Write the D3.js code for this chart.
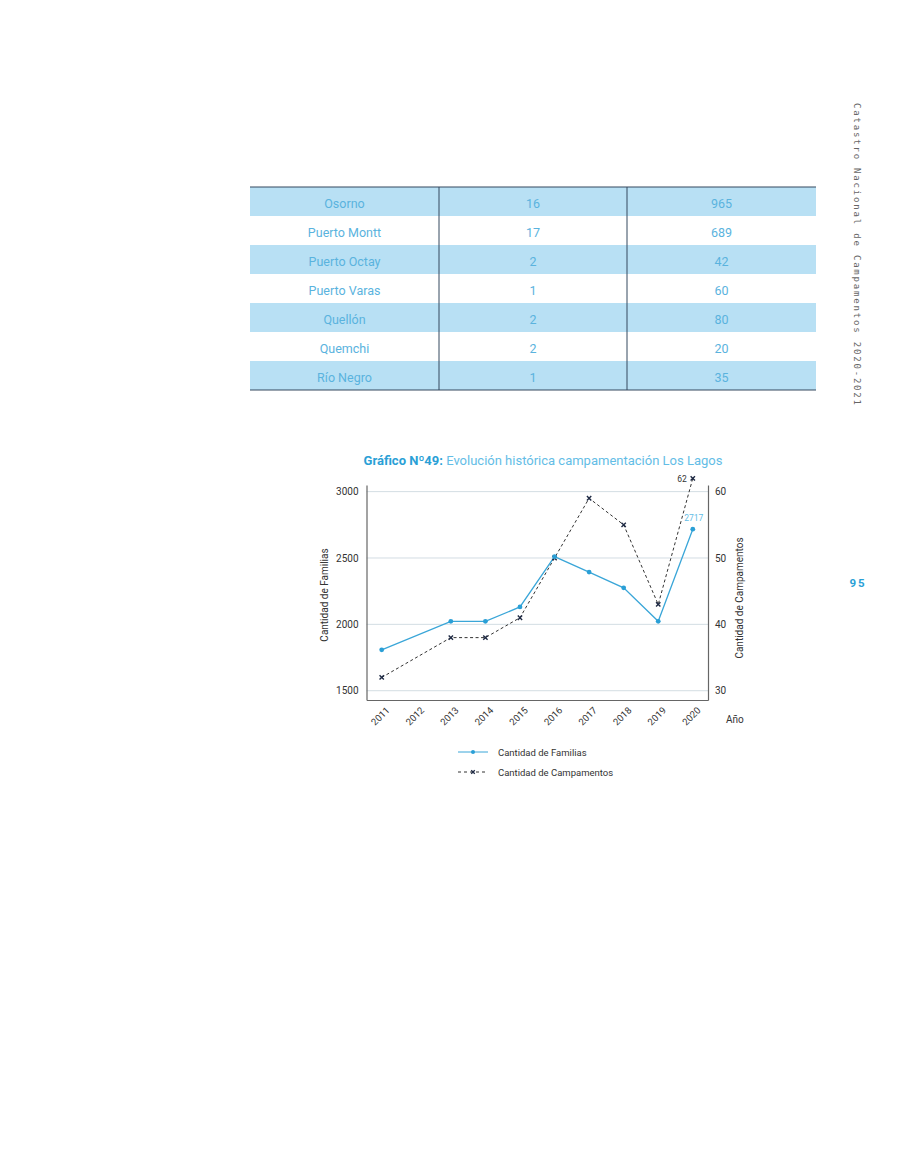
<!DOCTYPE html>
<html>
<head>
<meta charset="utf-8">
<script src="https://cdn.jsdelivr.net/npm/d3@7"></script>
<style>
  body { margin: 0; background: #fff; }
  svg { display: block; font-family: Roboto, "Noto Sans", sans-serif; }
</style>
</head>
<body>
<div id="page"></div>
<script>
// table rows: comuna, campamentos, familias
var comunas = ['Osorno', 'Puerto Montt', 'Puerto Octay', 'Puerto Varas', 'Quellón', 'Quemchi', 'Río Negro'];
var campComuna = [16, 17, 2, 1, 2, 2, 1];
var famComuna = [965, 689, 42, 60, 80, 20, 35];

// chart data (2012 has no observation)
var years = ['2011', '2012', '2013', '2014', '2015', '2016', '2017', '2018', '2019', '2020'];
var familias = [1808, null, 2023, 2023, 2131, 2510, 2394, 2275, 2023, 2717];
var campamentos = [32, null, 38, 38, 41, 50, 59, 55, 43, 62];
var leftTicks = [1500, 2000, 2500, 3000];
var rightTicks = [30, 40, 50, 60];

var width = 900, height = 1165;
var blue = '#3aa6d8', lightBlue = '#63bde6', dark = '#333';

var svg = d3.select('#page').append('svg')
  .attr('width', width)
  .attr('height', height);

// ---- table ----
var tableX = 250, tableY = 187, rowH = 29;
var colX = [250, 439, 627, 816];

var rows = svg.append('g').selectAll('g').data(comunas)
  .enter().append('g')
  .attr('transform', function (d, i) { return 'translate(0,' + (tableY + i * rowH) + ')'; });

rows.append('rect')
  .attr('x', tableX)
  .attr('width', colX[3] - tableX)
  .attr('height', rowH)
  .attr('fill', function (d, i) { return i % 2 === 0 ? '#b8e0f4' : '#fff'; });

rows.each(function (d, i) {
  var cells = [d, campComuna[i], famComuna[i]];
  d3.select(this).selectAll('text').data(cells)
    .enter().append('text')
    .attr('x', function (c, j) { return (colX[j] + colX[j + 1]) / 2; })
    .attr('y', rowH / 2 + 6.5)
    .attr('text-anchor', 'middle')
    .attr('font-size', 12.5)
    .attr('fill', '#5ab3de')
    .text(function (c) { return c; });
});

var tableBottom = tableY + comunas.length * rowH;
svg.append('line').attr('x1', tableX).attr('x2', colX[3]).attr('y1', tableY).attr('y2', tableY)
  .attr('stroke', '#34495e').attr('stroke-width', 1.2);
svg.append('line').attr('x1', tableX).attr('x2', colX[3]).attr('y1', tableBottom).attr('y2', tableBottom)
  .attr('stroke', '#34495e').attr('stroke-width', 1.2);
[colX[1], colX[2]].forEach(function (x) {
  svg.append('line').attr('x1', x).attr('x2', x).attr('y1', tableY).attr('y2', tableBottom)
    .attr('stroke', '#34495e').attr('stroke-width', 1);
});

// ---- side text ----
svg.append('text')
  .attr('transform', 'translate(854,103) rotate(90)')
  .attr('font-family', '"DejaVu Sans Mono", monospace')
  .attr('font-size', 9)
  .attr('fill', '#666')
  .attr('textLength', 302)
  .attr('lengthAdjust', 'spacing')
  .text('Catastro Nacional de Campamentos 2020-2021');

svg.append('text')
  .attr('x', 858).attr('y', 587)
  .attr('text-anchor', 'middle')
  .attr('font-size', 11.5)
  .attr('font-weight', 'bold')
  .attr('letter-spacing', 2)
  .attr('fill', '#2a9fd6')
  .text('95');

// ---- chart ----
var plot = { left: 366.5, right: 708, top: 485, bottom: 700 };

var x = d3.scalePoint().domain(years)
  .range([plot.left, plot.right]).padding(0.44);
var yL = d3.scaleLinear().domain([1430, 3050]).range([plot.bottom, plot.top]);
var yR = d3.scaleLinear().domain([28.6, 61]).range([plot.bottom, plot.top]);

var title = svg.append('text')
  .attr('x', 543).attr('y', 465)
  .attr('text-anchor', 'middle')
  .attr('font-size', 13);
title.append('tspan').attr('font-weight', 'bold').attr('fill', '#2a9fd6').text('Gráfico Nº49: ');
title.append('tspan').attr('fill', lightBlue).text('Evolución histórica campamentación Los Lagos');

// grid
svg.append('g').selectAll('line').data(leftTicks)
  .enter().append('line')
  .attr('x1', plot.left).attr('x2', plot.right)
  .attr('y1', function (d) { return yL(d); })
  .attr('y2', function (d) { return yL(d); })
  .attr('stroke', '#d3dde3').attr('stroke-width', 1);

// axes
var gL = svg.append('g').attr('transform', 'translate(' + plot.left + ',0)')
  .call(d3.axisLeft(yL).tickValues(leftTicks).tickFormat(d3.format('d')).tickSize(0).tickPadding(8));
var gR = svg.append('g').attr('transform', 'translate(' + plot.right + ',0)')
  .call(d3.axisRight(yR).tickValues(rightTicks).tickFormat(d3.format('d')).tickSize(0).tickPadding(7));
var gX = svg.append('g').attr('transform', 'translate(0,' + plot.bottom + ')')
  .call(d3.axisBottom(x).tickSize(0).tickPadding(0));

[gL, gR, gX].forEach(function (g) {
  g.select('.domain').attr('stroke', '#666').attr('stroke-width', 1.2);
  g.selectAll('text').attr('font-family', 'Roboto, sans-serif').attr('font-size', 10).attr('fill', dark);
});
gX.selectAll('text')
  .attr('text-anchor', 'end')
  .attr('dy', 0)
  .attr('y', 0)
  .attr('font-size', 9.5)
  .attr('transform', 'translate(8,11) rotate(-45)');

svg.append('text')
  .attr('x', 726).attr('y', 723)
  .attr('font-size', 10).attr('fill', dark)
  .text('Año');

svg.append('text')
  .attr('transform', 'translate(328,595) rotate(-90)')
  .attr('text-anchor', 'middle')
  .attr('font-size', 10).attr('fill', dark)
  .text('Cantidad de Familias');
svg.append('text')
  .attr('transform', 'translate(743,598) rotate(-90)')
  .attr('text-anchor', 'middle')
  .attr('font-size', 10).attr('fill', dark)
  .text('Cantidad de Campamentos');

// series
var famPts = years.map(function (y, i) { return { year: y, v: familias[i] }; })
  .filter(function (d) { return d.v !== null; });
var campPts = years.map(function (y, i) { return { year: y, v: campamentos[i] }; })
  .filter(function (d) { return d.v !== null; });

var lineFam = d3.line().x(function (d) { return x(d.year); }).y(function (d) { return yL(d.v); });
var lineCamp = d3.line().x(function (d) { return x(d.year); }).y(function (d) { return yR(d.v); });

svg.append('path').datum(campPts)
  .attr('d', lineCamp)
  .attr('fill', 'none')
  .attr('stroke', '#333')
  .attr('stroke-width', 1)
  .attr('stroke-dasharray', '3,2.5');

svg.append('path').datum(famPts)
  .attr('d', lineFam)
  .attr('fill', 'none')
  .attr('stroke', blue)
  .attr('stroke-width', 1.3);

var cross = d3.symbol().type(d3.symbolX).size(14);
svg.append('g').selectAll('path').data(campPts)
  .enter().append('path')
  .attr('d', cross)
  .attr('transform', function (d) { return 'translate(' + x(d.year) + ',' + yR(d.v) + ')'; })
  .attr('stroke', '#1f2a44').attr('stroke-width', 1.4);

svg.append('g').selectAll('circle').data(famPts)
  .enter().append('circle')
  .attr('cx', function (d) { return x(d.year); })
  .attr('cy', function (d) { return yL(d.v); })
  .attr('r', 2.4)
  .attr('fill', '#2a9fd6');

// value labels for last year
var last = years.length - 1;
svg.append('text')
  .attr('x', x(years[last]) - 6).attr('y', yR(campamentos[last]) + 4)
  .attr('text-anchor', 'end')
  .attr('font-size', 8.5).attr('fill', dark)
  .text(campamentos[last]);
svg.append('text')
  .attr('x', x(years[last]) + 1).attr('y', yL(familias[last]) - 8)
  .attr('text-anchor', 'middle')
  .attr('font-size', 8.5).attr('fill', lightBlue)
  .text(familias[last]);

// legend
var legend = svg.append('g').attr('transform', 'translate(458,752)');
legend.append('line').attr('x1', 0).attr('x2', 30).attr('stroke', blue).attr('stroke-width', 1);
legend.append('circle').attr('cx', 15).attr('r', 2).attr('fill', '#2a9fd6');
legend.append('text').attr('x', 40).attr('y', 3.5).attr('font-size', 9.5).attr('fill', dark)
  .text('Cantidad de Familias');
legend.append('line').attr('x1', 0).attr('x2', 30).attr('y1', 20).attr('y2', 20)
  .attr('stroke', '#333').attr('stroke-width', 1).attr('stroke-dasharray', '3,3');
legend.append('path').attr('d', d3.symbol().type(d3.symbolX).size(10))
  .attr('transform', 'translate(15,20)').attr('stroke', '#1f2a44').attr('stroke-width', 1.3);
legend.append('text').attr('x', 40).attr('y', 23.5).attr('font-size', 9.5).attr('fill', dark)
  .text('Cantidad de Campamentos');
</script>
</body>
</html>
